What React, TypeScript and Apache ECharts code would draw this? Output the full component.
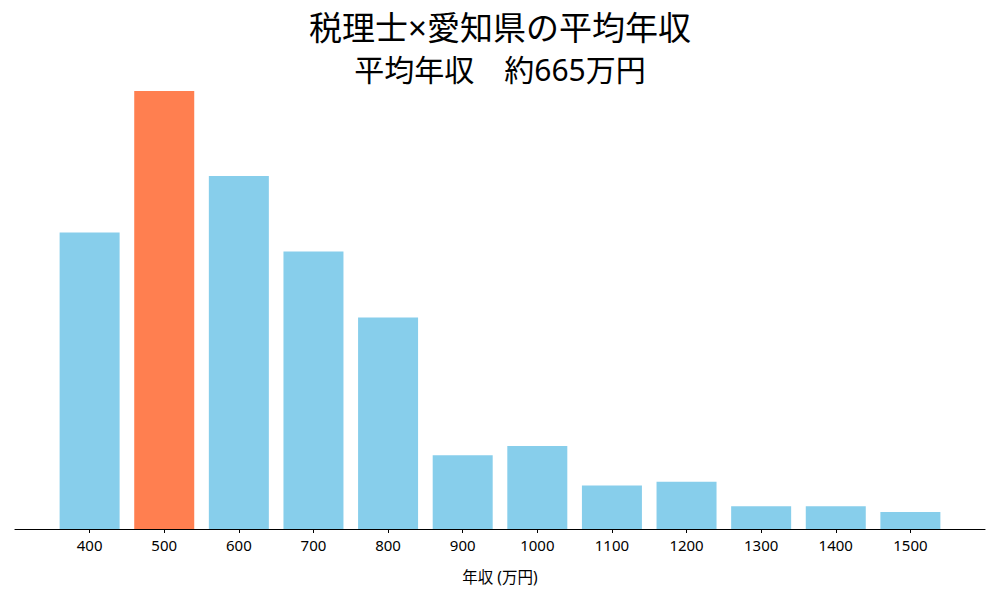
import { useEffect, useRef } from "react";
import * as echarts from "echarts";

// 年収帯（万円）と各帯の割合（%）
const incomeBands = ["400", "500", "600", "700", "800", "900", "1000", "1100", "1200", "1300", "1400", "1500"];
const shares = [15.7, 23.2, 18.7, 14.7, 11.2, 3.9, 4.4, 2.3, 2.5, 1.2, 1.2, 0.9];
const highlightBand = "500";

const titleText = "税理士×愛知県の平均年収";
const subtitleText = "平均年収　約665万円";
const xAxisName = "年収 (万円)";

const fontFamily = "'Noto Sans', 'Noto Sans CJK JP', sans-serif";
const baseColor = "#87CEEB";
const highlightColor = "#FF7F50";

export default function App() {
  const chartRef = useRef<HTMLDivElement>(null);

  useEffect(() => {
    if (!chartRef.current) return;
    const chart = echarts.init(chartRef.current, undefined, { renderer: "svg" });

    const tickValues = incomeBands.map((b) => Number(b));

    const option: echarts.EChartsOption = {
      animation: false,
      backgroundColor: "#ffffff",
      title: [
        {
          text: titleText,
          left: "center",
          top: 6,
          textStyle: { fontFamily, fontSize: 33, fontWeight: "normal", color: "#000" },
        },
        {
          text: subtitleText,
          left: "center",
          top: 49,
          textStyle: { fontFamily, fontSize: 30, fontWeight: "normal", color: "#000" },
        },
      ],
      grid: { left: 15, right: 15, top: 69, bottom: 71 },
      xAxis: {
        type: "value",
        min: 300,
        max: 1600,
        name: xAxisName,
        nameLocation: "middle",
        nameGap: 40,
        nameTextStyle: { fontFamily, fontSize: 15.5, color: "#000" },
        axisLine: { show: true, lineStyle: { color: "#000", width: 1.2 } },
        axisTick: { show: true, length: 4, customValues: tickValues, lineStyle: { color: "#000" } },
        axisLabel: {
          customValues: tickValues,
          formatter: (v: number) => String(v),
          fontFamily,
          fontSize: 15,
          color: "#000",
          margin: 8,
        },
        splitLine: { show: false },
      },
      yAxis: {
        type: "value",
        show: false,
        min: 0,
        max: (v: { max: number }) => v.max * 1.05,
        splitLine: { show: false },
      },
      series: [
        {
          type: "bar",
          barWidth: 60,
          data: incomeBands.map((b, i) => ({
            value: [Number(b), shares[i]],
            itemStyle: { color: b === highlightBand ? highlightColor : baseColor },
          })),
        },
      ],
    };

    chart.setOption(option);
    return () => chart.dispose();
  }, []);

  return <div ref={chartRef} style={{ width: 1000, height: 600, margin: -8 }} />;
}
